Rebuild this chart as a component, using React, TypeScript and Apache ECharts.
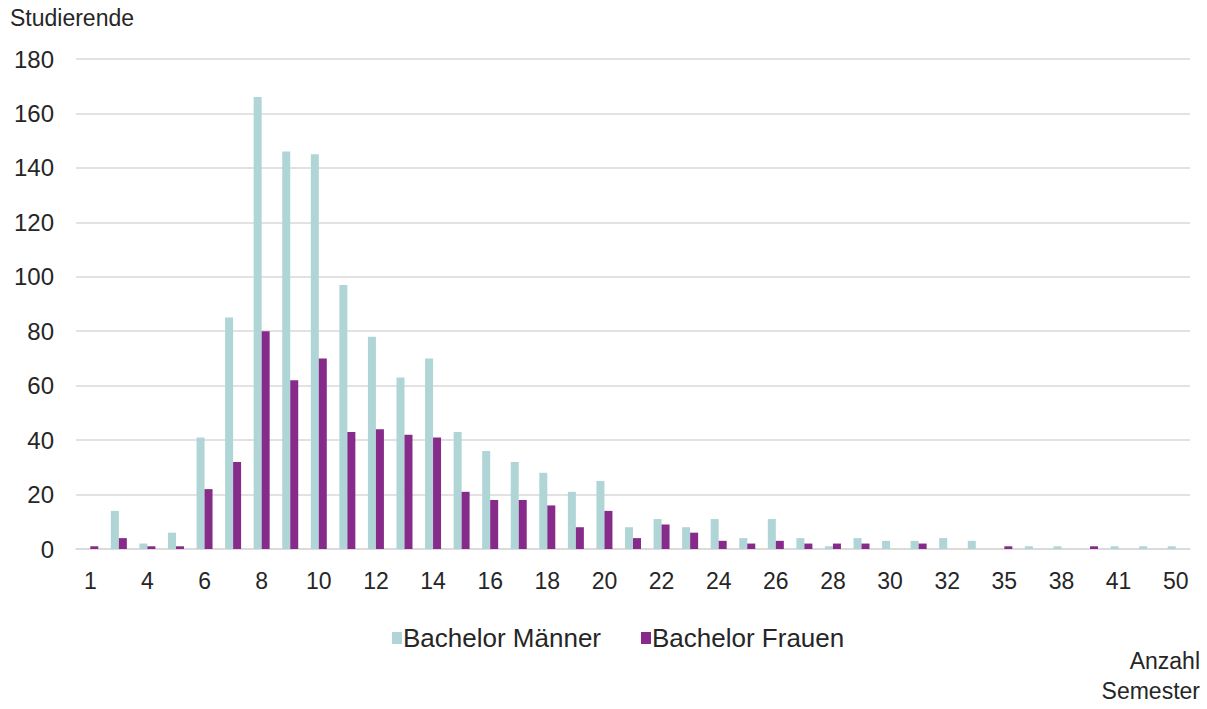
import React, { useEffect, useRef } from "react";
import * as echarts from "echarts";

const semesters = ["1", "2", "4", "5", "6", "7", "8", "9", "10", "11", "12", "13", "14", "15", "16", "17", "18", "19", "20", "21", "22", "23", "24", "25", "26", "27", "28", "29", "30", "31", "32", "33", "35", "36", "38", "39", "41", "44", "50"];
const maenner = [0, 14, 2, 6, 41, 85, 166, 146, 145, 97, 78, 63, 70, 43, 36, 32, 28, 21, 25, 8, 11, 8, 11, 4, 11, 4, 1, 4, 3, 3, 4, 3, 0, 1, 1, 0, 1, 1, 1];
const frauen = [1, 4, 1, 1, 22, 32, 80, 62, 70, 43, 44, 42, 41, 21, 18, 18, 16, 8, 14, 4, 9, 6, 3, 2, 3, 2, 2, 2, 0, 2, 0, 0, 1, 0, 0, 1, 0, 0, 0];
const yTicks = [0, 20, 40, 60, 80, 100, 120, 140, 160, 180];

const FONT = "'Liberation Sans', Arial, sans-serif";
const TEAL = "#b0d5d6";
const PURPLE = "#872b8b";
const TEXT = "#262626";

export default function App() {
  const ref = useRef<HTMLDivElement>(null);
  useEffect(() => {
    if (!ref.current) return;
    const chart = echarts.init(ref.current, undefined, { renderer: "svg" });
    chart.setOption({
      animation: false,
      textStyle: { fontFamily: FONT },
      grid: { left: 76, right: 17, top: 59, bottom: 160, containLabel: false },
      legend: {
        left: 387,
        top: 620,
        itemWidth: 10,
        itemHeight: 12,
        itemGap: 40,
        icon: "rect",
        textStyle: { fontFamily: FONT, fontSize: 26, color: TEXT, padding: [0, 0, 0, -4] },
        data: ["Bachelor Männer", "Bachelor Frauen"],
      },
      xAxis: {
        type: "category",
        data: semesters,
        axisLine: { show: true, lineStyle: { color: "#d9d9d9", width: 1.5 } },
        axisTick: { show: false },
        axisLabel: { interval: 1, fontFamily: FONT, fontSize: 23, color: TEXT, margin: 20 },
      },
      yAxis: {
        type: "value",
        min: yTicks[0],
        max: yTicks[yTicks.length - 1],
        interval: 20,
        axisLine: { show: false },
        axisTick: { show: false },
        splitLine: { lineStyle: { color: "#d9d9d9", width: 1.5 } },
        axisLabel: { fontFamily: FONT, fontSize: 24, color: TEXT, margin: 22 },
      },
      series: [
        {
          name: "Bachelor Männer",
          type: "bar",
          data: maenner,
          itemStyle: { color: TEAL },
          barGap: "0%",
          barCategoryGap: "44%",
        },
        {
          name: "Bachelor Frauen",
          type: "bar",
          data: frauen,
          itemStyle: { color: PURPLE },
          barGap: "0%",
          barCategoryGap: "44%",
        },
      ],
      graphic: [
        { type: "text", left: 10, top: 6, style: { text: "Studierende", font: `23px ${FONT}`, fill: TEXT } },
        { type: "text", right: 7, top: 649, style: { text: "Anzahl", font: `23px ${FONT}`, fill: TEXT } },
        { type: "text", right: 7, top: 679, style: { text: "Semester", font: `23px ${FONT}`, fill: TEXT } },
      ],
    });
    return () => chart.dispose();
  }, []);
  return (
    <div
      ref={ref}
      style={{ position: "fixed", left: 0, top: 0, width: 1207, height: 709, background: "#fff" }}
    />
  );
}
